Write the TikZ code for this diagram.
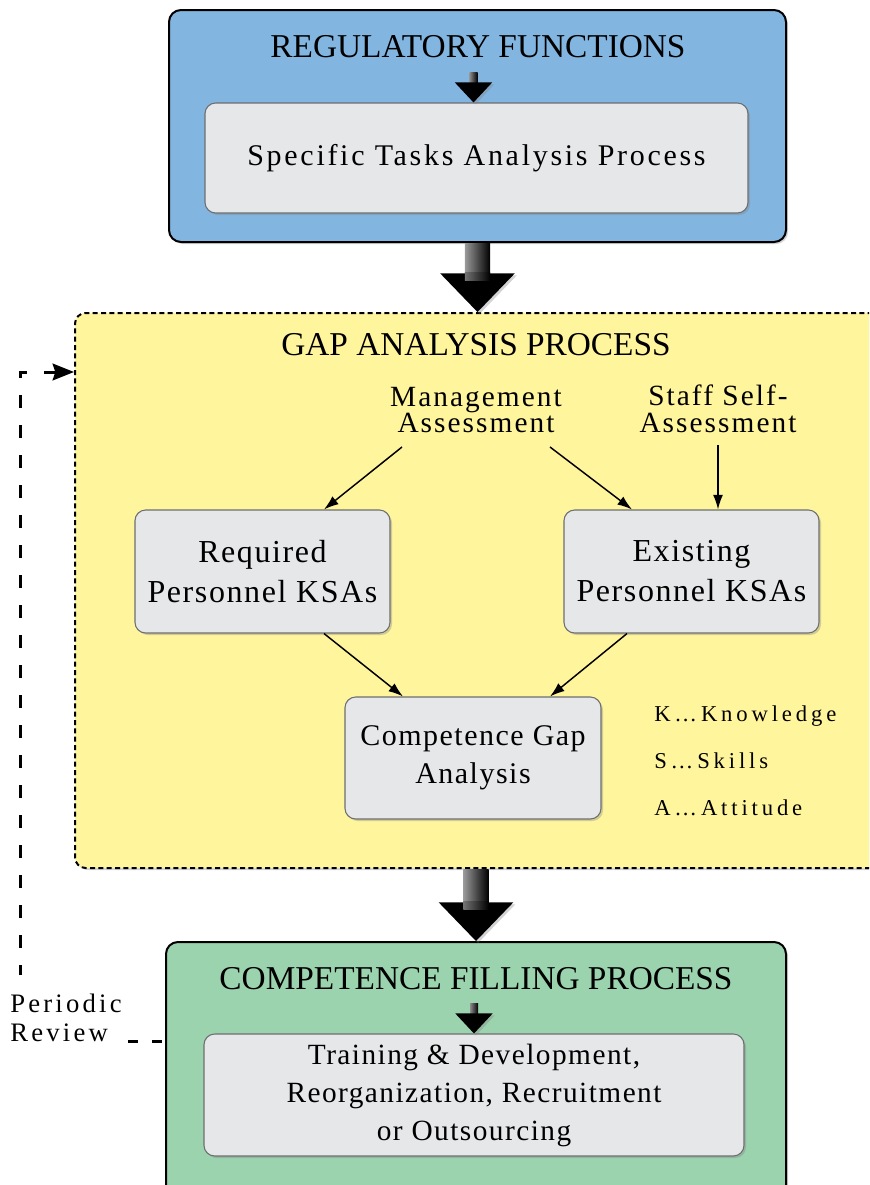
\documentclass[tikz,border=0pt]{standalone}
\usepackage{fontspec}
\setmainfont{Liberation Serif}
\newfontfamily\fTitle{Liberation Serif}
\newfontfamily\fSpecific[LetterSpace=9]{Liberation Serif}
\newfontfamily\fAssess[LetterSpace=7]{Liberation Serif}
\newfontfamily\fBox[LetterSpace=5]{Liberation Serif}
\newfontfamily\fLegend[LetterSpace=17]{Liberation Serif}
\newfontfamily\fReview[LetterSpace=12]{Liberation Serif}
\usetikzlibrary{arrows.meta,shadows,calc}
\definecolor{regblue}{HTML}{82B6E1}
\definecolor{gapyellow}{HTML}{FFF59D}
\definecolor{fillgreen}{HTML}{9BD3AE}
\definecolor{innergray}{HTML}{E6E7E9}
\definecolor{innerline}{HTML}{6D6E71}
\tikzset{
  shd/.style={drop shadow={shadow xshift=1.5pt,shadow yshift=-1.5pt,opacity=0.35}},
  outerbox/.style={draw=black,line width=1.5pt,rounded corners=9pt,shd,inner sep=0pt},
  dashbox/.style={draw=black,line width=1.5pt,dash pattern=on 3.75pt off 2.5pt,rounded corners=8pt,fill=gapyellow,shd,inner sep=0pt},
  innerbox/.style={draw=innerline,line width=0.8pt,fill=innergray,rounded corners=8pt,shd,align=center,inner sep=0pt},
  titletext/.style={inner sep=0pt,anchor=base,font=\fTitle\fontsize{25pt}{30pt}\selectfont},
  assess/.style={align=center,inner sep=0pt,font=\fAssess\fontsize{22pt}{20pt}\selectfont},
  legend/.style={anchor=base west,inner sep=0pt,font=\fLegend\fontsize{17pt}{20pt}\selectfont},
  thinarr/.style={line width=1.1pt,-{Latex[length=11pt,width=7.5pt]}},
  fbline/.style={line width=2.25pt},
}
\newcommand\BigArr[2]{%
  \path let \p1=#1, \p2=#2 in
    [left color=black!40,right color=black]
    (\x1-9.4pt,\y1) rectangle (\x1+9.4pt,\y2+28pt);
  \path let \p1=#1, \p2=#2 in
    [fill=black,shd]
    (\x1-28pt,\y2+29pt) -- (\x1+28pt,\y2+29pt) -- (\x1,\y2) -- cycle;
  \path let \p1=#1, \p2=#2 in
    [left color=black!55,right color=black]
    (\x1-9.4pt,\y2+29.5pt) rectangle (\x1+9.4pt,\y2+24pt);
}
\newcommand\SmallArr[1]{%
  \path let \p1=#1 in
    [left color=black!45,right color=black]
    (\x1-3pt,\y1+22.5pt) rectangle (\x1+3pt,\y1+14.5pt);
  \path let \p1=#1 in
    [fill=black,shd]
    (\x1-14pt,\y1+15pt) -- (\x1+14pt,\y1+15pt) -- (\x1,\y1) -- cycle;
}
\begin{document}
\begin{tikzpicture}[x=0.75pt,y=-0.75pt]
\useasboundingbox (0,0) rectangle (869,1185);
\clip (0,0) rectangle (869,1185);

% containers
\node[outerbox,fill=regblue,minimum width=462.75pt,minimum height=174pt] (reg) at (477.5,126) {};
\node[dashbox,minimum width=693.75pt,minimum height=416.25pt] (gap) at (537.5,590.5) {};
\node[outerbox,fill=fillgreen,minimum width=465pt,minimum height=193.5pt] (fill) at (476,1071) {};

% titles
\node[titletext] (regT) at (478,57) {REGULATORY FUNCTIONS};
\node[titletext] (gapT) at (476,355) {GAP ANALYSIS PROCESS};
\node[titletext] (fillT) at (476,989) {COMPETENCE FILLING PROCESS};

% inner boxes
\node[innerbox,minimum width=407.25pt,minimum height=82.5pt,font=\fSpecific\fontsize{22.5pt}{28pt}\selectfont] (sta) at (476.5,158) {Specific Tasks Analysis Process};
\node[innerbox,minimum width=191.25pt,minimum height=92.25pt,font=\fBox\fontsize{24pt}{30pt}\selectfont] (req) at (262.5,571.5) {Required\\Personnel KSAs};
\node[innerbox,minimum width=191.25pt,minimum height=92.25pt,font=\fBox\fontsize{24pt}{30pt}\selectfont] (exi) at (691.5,571.5) {Existing\\Personnel KSAs};
\node[innerbox,minimum width=192pt,minimum height=91.5pt,font=\fBox\fontsize{22.5pt}{28.5pt}\selectfont] (cga) at (473,758) {Competence Gap\\Analysis};
\node[innerbox,minimum width=405pt,minimum height=91.5pt,font=\fBox\fontsize{22pt}{28.5pt}\selectfont] (tdo) at (474,1095) {Training \& Development,\\Reorganization, Recruitment\\or Outsourcing};

% assessment labels
\node[assess] (mgmt) at (476,410) {Management\\Assessment};
\node[assess] (staff) at (718,409) {Staff Self-\\Assessment};

% legend
\node[legend] (legK) at (654,721) {K…Knowledge};
\node[legend] (legS) at (654,768) {S…Skills};
\node[legend] (legA) at (654,815) {A…Attitude};

% review label
\node[align=left,inner sep=0pt,font=\fReview\fontsize{20pt}{21.75pt}\selectfont] (rev) at (66,1018) {Periodic\\Review};

% thin arrows
\draw[thinarr] ($(mgmt)+(-74,37)$) -- ($(req.north)+(61.5,0)$);
\draw[thinarr] ($(mgmt)+(74,37)$) -- ($(exi.north)+(-59.5,0)$);
\draw[thinarr] ($(staff)+(0,36)$) -- (exi.north -| staff);
\draw[thinarr] ($(req.south)+(61.5,0)$) -- ($(cga.north)+(-70,0)$);
\draw[thinarr] ($(exi.south)+(-64.5,0)$) -- ($(cga.north)+(77,0)$);

% big arrows
\BigArr{(reg.south)}{(gap.north -| reg.south)}
\BigArr{(gap.south -| fill.north)}{(fill.north)}

% small arrows
\SmallArr{($(sta.north)+(-3,0)$)}
\SmallArr{(tdo.north)}

% feedback loop
\coordinate (fbTop) at (20,372);
\coordinate (fbBot) at (20,975);
\coordinate (fbR) at (128,1041);
\draw[fbline,dash pattern=on 7.5pt off 10.5pt] (fbR) -- (fbR -| fill.west);
\draw[fbline,dash pattern=on 9.75pt off 12.75pt,dash phase=2.25pt,-{Stealth[length=16pt,width=12.5pt,inset=2pt]}] (fbBot) -- (fbTop) -- (fbTop -| gap.west);
\end{tikzpicture}
\end{document}
